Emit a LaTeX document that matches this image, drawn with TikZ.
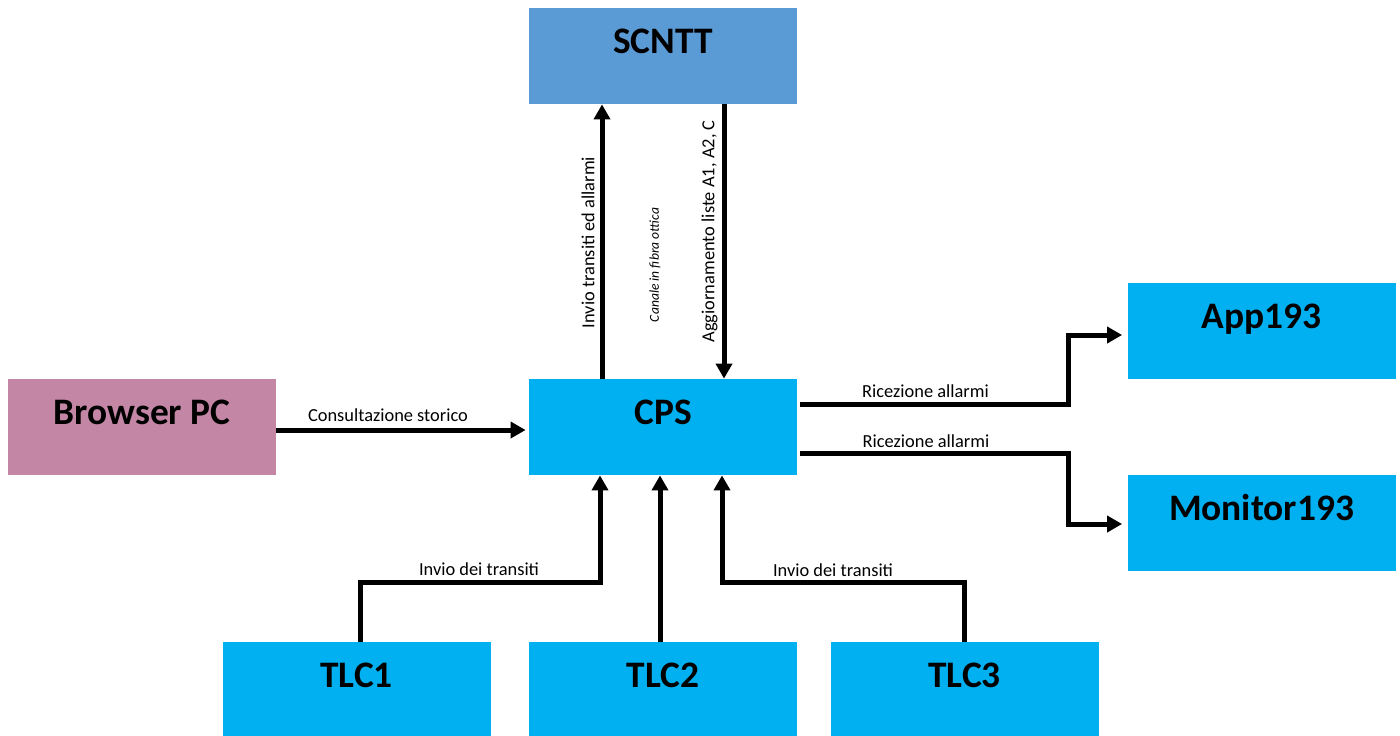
\documentclass[tikz,border=0pt]{standalone}
\usepackage{fontspec}
\setmainfont{Carlito}
\usetikzlibrary{arrows.meta}
\definecolor{scnttblue}{HTML}{5B9BD5}
\definecolor{cyanbox}{HTML}{00B0F0}
\definecolor{mauvebox}{HTML}{C386A5}
\begin{document}
\begin{tikzpicture}[x=0.5pt,y=-0.5pt,
  box/.style={rectangle, draw=none, minimum width=134pt, minimum height=48pt,
    inner xsep=0pt, inner ysep=0pt, text height=22.5pt, text depth=25.5pt,
    font=\fontsize{18.7}{22}\selectfont\bfseries},
  lbl/.style={font=\fontsize{9.2}{11}\selectfont, inner sep=0pt},
  arr/.style={line width=2.5pt, -{Triangle[length=7.5pt,width=8pt]}},
]
\useasboundingbox (0,0) rectangle (1400,735);

% boxes
\node[box, fill=scnttblue] (scntt) at (663,56) {SCNTT};
\node[box, fill=cyanbox] (cps) at (663,427) {CPS};
\node[box, fill=mauvebox] (browser) at (142,427) {Browser PC};
\node[box, fill=cyanbox] (app) at (1261.5,331) {App193};
\node[box, fill=cyanbox] (monitor) at (1261.5,523) {Monitor193};
\node[box, fill=cyanbox] (tlc1) at (356.5,690) {TLC1};
\node[box, fill=cyanbox] (tlc2) at (663,690) {TLC2};
\node[box, fill=cyanbox] (tlc3) at (964.5,690) {TLC3};

% connectors
\draw[arr] ([xshift=-30.5pt]cps.north) -- ([xshift=-30.5pt]scntt.south);
\draw[arr] ([xshift=30.5pt]scntt.south) -- ([xshift=30.5pt]cps.north);
\draw[arr, shorten >=1.5pt] ([yshift=-1.5pt]browser.east) -- ([yshift=-1.5pt]cps.west);
\draw[arr, shorten <=1.5pt, shorten >=2.5pt] ([yshift=11.5pt]cps.east) -- ++(135.5pt,0) |- ([yshift=-2pt]app.west);
\draw[arr, shorten <=1.5pt, shorten >=2.5pt] ([yshift=-13pt]cps.east) -- ++(135.5pt,0) |- ([yshift=-0.5pt]monitor.west);
\draw[arr] ([xshift=2pt]tlc1.north) -- ++(0,29.5pt) -| ([xshift=-31.5pt]cps.south);
\draw[arr] ([xshift=-1.5pt]tlc2.north) -- ([xshift=-1.5pt]cps.south);
\draw[arr] (tlc3.north) -- ++(0,29.5pt) -| ([xshift=29.5pt]cps.south);

% labels
\node[lbl, rotate=90] (l1) at (588,242.5) {Invio transiti ed allarmi};
\node[lbl, rotate=90, font=\fontsize{6.8}{8}\selectfont\itshape] (l2) at (655,265) {Canale in fibra ottica};
\node[lbl, rotate=90] (l3) at (709.5,231.5) {Aggiornamento liste A1, A2, C};
\node[lbl] (l4) at (388,415) {Consultazione storico};
\node[lbl] (l5) at (925.5,391) {Ricezione allarmi};
\node[lbl] (l6) at (926,441) {Ricezione allarmi};
\node[lbl] (l7) at (479,569.5) {Invio dei transiti};
\node[lbl] (l8) at (833,570) {Invio dei transiti};
\end{tikzpicture}
\end{document}
